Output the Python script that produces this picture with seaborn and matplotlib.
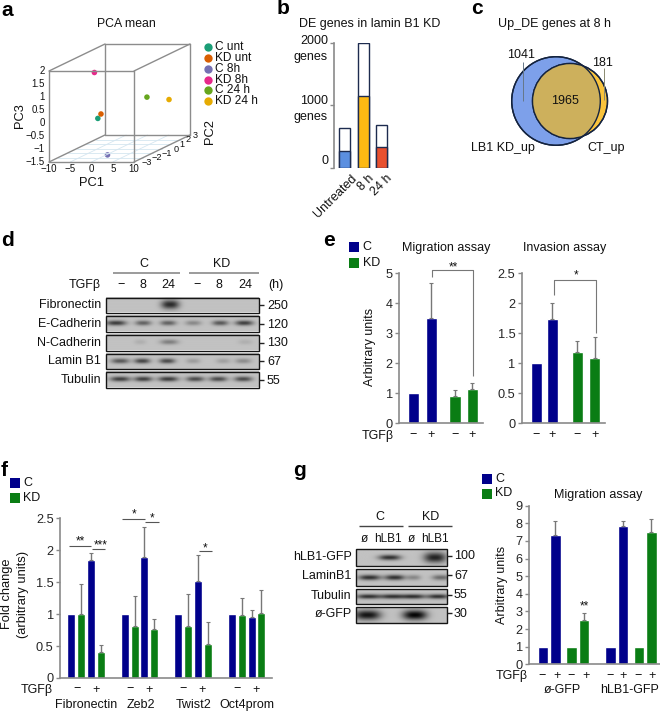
import numpy as np
import pandas as pd
import matplotlib
matplotlib.use("Agg")
import matplotlib.pyplot as plt
from matplotlib.patches import Circle, Rectangle
import seaborn as sns

# panel a
pca_names = ["C unt", "KD unt", "C 8h", "KD 8h", "C 24 h", "KD 24 h"]
pca_colors = ["#1b9e77", "#d95f02", "#7570b3", "#e7298a", "#66a61e", "#e6ab02"]
pc1 = [-2.9, -2.16, 1.57, -8.1, 2.07, 9.46]
pc2 = [-1, -1, -2, 1, 2, 1]
pc3 = [-0.17, 0.0, -1.4, 1.25, 0.13, 0.21]
pc1_ticks = [-10, -5, 0, 5, 10]
pc2_ticks = [-3, -2, -1, 0, 1, 2, 3]
pc3_ticks = [-1.5, -1, -0.5, 0, 0.5, 1, 1.5, 2]

# panel b
de_names = ["Untreated", "8 h", "24 h"]
de_total = [638, 2000, 680]
de_part = [273, 1158, 327]
de_colors = ["#5b8fe0", "#fdb913", "#e8502f"]

# panel e
mig_vals = [1, 3.52, 0.9, 1.13]
mig_tops = [None, 4.67, 1.1, 1.33]
inv_vals = [1, 1.74, 1.18, 1.08]
inv_tops = [None, 2.0, 1.37, 1.43]
groups4 = ["C", "C", "KD", "KD"]

# panel f
genes = ["Fibronectin", "Zeb2", "Twist2", "Oct4prom"]
fold_vals = [1, 1, 1.85, 0.4, 1, 0.81, 1.9, 0.77, 1, 0.82, 1.52, 0.53, 1, 0.99, 0.96, 1.02]
fold_tops = [None, 1.47, 1.95, 0.52, None, 1.28, 2.37, 0.92, None, 1.32, 1.92, 0.87, None, 1.25, 1.06, 1.38]
fold_groups = ["C", "KD", "C", "KD"] * 4

# panel g
res_vals = [1, 7.35, 1, 2.5, 1, 7.82, 1, 7.5]
res_tops = [None, 8.12, None, 2.9, None, 8.12, None, 8.22]
res_groups = ["C", "C", "KD", "KD", "C", "C", "KD", "KD"]

# blots: band centre (px), half width, strength
d_rows = ["Fibronectin", "E-Cadherin", "N-Cadherin", "Lamin B1", "Tubulin"]
d_mw = ["250", "120", "130", "67", "55"]
d_bands = [
    [(170, 9, 0.78)],
    [(116, 10, 0.7), (143, 8, 0.5), (168, 8, 0.5), (193, 8, 0.3), (220, 8, 0.55), (244, 9, 0.68)],
    [(140, 6, 0.1), (169, 9, 0.35), (245, 7, 0.1)],
    [(120, 9, 0.55), (142, 8, 0.65), (167, 8, 0.62), (193, 7, 0.2), (223, 7, 0.18), (243, 8, 0.28)],
    [(120, 10, 0.68), (143, 9, 0.68), (168, 10, 0.7), (195, 9, 0.62), (218, 9, 0.62), (243, 9, 0.62)],
]
g_rows = ["hLB1-GFP", "LaminB1", "Tubulin", "ø-GFP"]
g_mw = ["100", "67", "55", "30"]
g_bands = [
    [(389, 11, 0.75), (434, 11, 0.82)],
    [(369, 11, 0.75), (394, 10, 0.75), (413, 7, 0.3), (440, 9, 0.45)],
    [(368, 12, 0.75), (392, 12, 0.75), (413, 11, 0.75), (437, 11, 0.75)],
    [(367, 13, 0.9), (414, 12, 0.98)],
]

blue = "#00008b"
green = "#0a7d14"
axis_gray = "#8a8a8a"
err_gray = "#777777"
palette = {"C": blue, "KD": green}

sns.set_theme(style="white")
plt.rcParams["font.family"] = ["Liberation Sans", "DejaVu Sans"]
W, H = 660, 712
fig = plt.figure(figsize=(W / 100, H / 100), dpi=100)

ov = fig.add_axes([0, 0, 1, 1], zorder=5)
ov.patch.set_visible(False)
ov.axis("off")


def T(x, y, s, size=9, ha="center", va="center", rot=0, **kw):
    ov.text(x, y, s, fontsize=size, ha=ha, va=va, rotation=rot, color="#111111", **kw)


def L(xs, ys, color="#555555", lw=0.8):
    ov.plot(xs, ys, color=color, lw=lw, solid_capstyle="butt")


def px_axes(x0, ytop, x1, ybot):
    ax = fig.add_axes([x0 / W, 1 - ybot / H, (x1 - x0) / W, (ybot - ytop) / H])
    ax.patch.set_visible(False)
    for s in ["top", "right"]:
        ax.spines[s].set_visible(False)
    for s in ["left", "bottom"]:
        ax.spines[s].set_color(axis_gray)
        ax.spines[s].set_linewidth(1.2)
    ax.tick_params(axis="y", length=3, width=1, color=axis_gray, pad=1.5, labelsize=9.2, left=True)
    ax.set_xticks([])
    return ax


def bars(ax, pos, vals, tops, grp, bw, x0, x1, ymax, yticks, yfmt=None):
    df = pd.DataFrame({"pos": pos, "val": vals, "group": grp})
    gaps = np.diff(sorted(pos)).min()
    sns.barplot(data=df, x="pos", y="val", hue="group", palette=palette, native_scale=True, dodge=False,
                width=bw / gaps, saturation=1, legend=False, ax=ax)
    for p, v, t in zip(pos, vals, tops):
        if t is not None:
            ax.errorbar([p], [v], yerr=[[0], [t - v]], fmt="none", ecolor=err_gray, elinewidth=1, capsize=1.5, capthick=0.8)
    ax.set_xlim(x0, x1)
    ax.set_ylim(0, ymax)
    ax.set_xlabel("")
    ax.set_ylabel("")
    ax.set_yticks(yticks)
    ax.set_yticklabels(yfmt if yfmt else [str(t) for t in yticks])
    ax.set_xticks([])
    sns.despine(ax=ax)


def legend(x, y1, y2, size=10):
    for y, name in [(y1, "C"), (y2, "KD")]:
        ov.add_patch(Rectangle((x, y), size, size, color=palette[name], lw=0))
        T(x + size + 3.5, y + size / 2, name, ha="left")


def blot(x0, x1, y0, y1, bands, bg=0.76):
    xs = np.arange(x0, x1, 0.5)
    ys = np.linspace(-1, 1, 40)
    img = np.full((len(ys), len(xs)), bg)
    for c, hw, s in bands:
        thick = 0.32 + 0.3 * (s > 0.77)
        img -= s * bg * np.exp(-np.abs((xs - c) / hw) ** 2.6)[None, :] * np.exp(-(ys / thick) ** 2)[:, None]
    ov.imshow(np.clip(img, 0, 1), cmap="gray", vmin=0, vmax=1, extent=(x0, x1, y1, y0), aspect="auto", interpolation="bilinear")
    ov.add_patch(Rectangle((x0, y0), x1 - x0, y1 - y0, fill=False, ec="#151515", lw=1))


# ---- a: oblique box
def proj(a, b, c):
    a, b, c = np.asarray(a, float), np.asarray(b, float), np.asarray(c, float)
    return 49 + 4.25 * (a + 10) + 9.33 * (b + 3), 162 - 26 * (c + 1.5) - 4.5 * (b + 3)


def edge(p, q, color="#8c8c8c", lw=1):
    x, y = proj([p[0], q[0]], [p[1], q[1]], [p[2], q[2]])
    ov.plot(x, y, color=color, lw=lw, solid_capstyle="round")


for t in pc1_ticks[1:-1]:
    edge((t, -3, -1.5), (t, 3, -1.5), "#d5e6f0", 0.6)
for t in pc2_ticks[1:-1]:
    edge((-10, t, -1.5), (10, t, -1.5), "#d5e6f0", 0.6)
box = [((-10, -3, -1.5), (10, -3, -1.5)), ((10, -3, -1.5), (10, 3, -1.5)), ((-10, 3, -1.5), (10, 3, -1.5)),
       ((-10, -3, -1.5), (-10, 3, -1.5)), ((-10, -3, 2), (10, -3, 2)), ((-10, 3, 2), (10, 3, 2)),
       ((-10, -3, 2), (-10, 3, 2)), ((10, -3, 2), (10, 3, 2)), ((-10, -3, -1.5), (-10, -3, 2)),
       ((10, -3, -1.5), (10, -3, 2)), ((-10, 3, -1.5), (-10, 3, 2)), ((10, 3, -1.5), (10, 3, 2))]
for p, q in box:
    edge(p, q)
px, py = proj(pc1, pc2, pc3)
pca_df = pd.DataFrame({"x": px, "y": py, "name": pca_names})
sns.scatterplot(data=pca_df, x="x", y="y", hue="name", palette=pca_colors, s=16, legend=False, linewidth=0, ax=ov)
ov.set_xlabel("")
ov.set_ylabel("")
for i, (n, c) in enumerate(zip(pca_names, pca_colors)):
    y = 47 + i * 10.85
    ov.scatter([207.5], [y], s=36, color=c, linewidth=0)
    T(215, y, n, size=8.6, ha="left")
for t in pc1_ticks:
    x, y = proj(t, -3, -1.5)
    T(x, y + 7, str(t).replace("-", "−"), size=7)
# the PC2 labels crowd together towards the back corner
for t, dx in zip(pc2_ticks, [12.7, 13.7, 14, 13.7, 10.4, 7.6, 5.7]):
    x, y = proj(10, t, -1.5)
    T(x + dx, y + 0.5, str(t).replace("-", "−"), size=6.6)
for t in pc3_ticks:
    x, y = proj(-10, -3, t)
    T(45, y, str(t).replace("-", "−"), size=7, ha="right")
T(126, 24, "PCA mean", size=8.8)
T(91.5, 183, "PC1", size=9.3)
T(20.5, 116, "PC3", size=9.3, rot=90)
T(210.5, 132, "PC2", size=9.3, rot=90)

# ---- b
ax_b = px_axes(334, 43.3, 392, 167.7)
ax_b.spines["bottom"].set_visible(False)
b_pos = [345, 363, 381.3]
b_edge = "#1d2b4f"
sns.barplot(x=b_pos, y=de_total, native_scale=True, color="white", edgecolor=b_edge, linewidth=1, width=11 / 18, ax=ax_b)
sns.barplot(x=b_pos, y=de_part, native_scale=True, hue=de_names, palette=de_colors, edgecolor=b_edge, linewidth=1,
            width=11 / 18, dodge=False, legend=False, saturation=1, ax=ax_b)
ax_b.set_xlim(334, 392)
ax_b.set_ylim(0, 2000)
ax_b.set_xticks([])
ax_b.set_yticks([0, 1000, 2000])
ax_b.set_yticklabels([])
T(370, 24, "DE genes in lamin B1 KD")
T(328, 41.5, "2000", ha="right")
T(328, 57, "genes", ha="right")
T(328, 101.5, "1000", ha="right")
T(328, 117, "genes", ha="right")
T(328, 161, "0", ha="right")
for name, x in zip(de_names, [351, 368, 386]):
    T(x, 172, name, rot=45, ha="right", va="top", rotation_mode="anchor")

# ---- c
c_blue = Circle((556, 101), 44.3, fc="#7da0ea", ec="#14233f", lw=1)
c_yellow = Circle((570, 101), 37.5, fc="#f9c33c", ec="#14233f", lw=1)
ov.add_patch(c_blue)
ov.add_patch(c_yellow)
c_mid = Circle((570, 101), 37.5, fc="#cdb05c", ec="none")
ov.add_patch(c_mid)
c_mid.set_clip_path(Circle((556, 101), 44.3, transform=ov.transData))
ov.add_patch(Circle((556, 101), 44.3, fill=False, ec="#14233f", lw=1))
ov.add_patch(Circle((570, 101), 37.5, fill=False, ec="#14233f", lw=1))
T(554.5, 24, "Up_DE genes at 8 h")
T(521, 55.5, "1041")
T(602.5, 62.5, "181")
T(565.5, 101.5, "1965")
T(502.5, 148.5, "LB1 KD_up")
T(606.5, 148.5, "CT_up")
L([522.5, 522.5], [62, 101], "#667788", 0.7)
L([603.5, 603.5], [68, 100], "#8a8a70", 0.7)

# ---- d
d_x0, d_x1 = 106, 258.7
d_y = [(297.5, 312.5), (316, 331.5), (334.5, 350.5), (353.5, 369), (372, 387.5)]
for name, mw, bd, (y0, y1) in zip(d_rows, d_mw, d_bands, d_y):
    blot(d_x0, d_x1, y0, y1, bd)
    T(101, (y0 + y1) / 2, name, ha="right")
    L([d_x1, d_x1 + 5], [(y0 + y1) / 2, (y0 + y1) / 2], "#222222", 1)
    T(267, (y0 + y1) / 2 + 1, mw, ha="left")
T(144, 264, "C")
T(221.5, 264, "KD")
L([113, 179.5], [273, 273], axis_gray, 1.2)
L([188.5, 258.7], [273, 273], axis_gray, 1.2)
T(101, 285, "TGFβ", ha="right")
for x, s in zip([121, 143, 168, 197, 219, 245], ["−", "8", "24", "−", "8", "24"]):
    T(x, 285, s)
T(276, 285, "(h)")

# ---- e
ax_e1 = px_axes(399, 273.3, 482.7, 423)
e1_pos = [413.3, 431.3, 455, 472.3]
bars(ax_e1, e1_pos, mig_vals, mig_tops, groups4, 11.5, 399, 482.7, 5, [0, 1, 2, 3, 4, 5])
ax_e2 = px_axes(521.7, 273.3, 605, 423)
e2_pos = [536, 552.3, 577.3, 594.7]
bars(ax_e2, e2_pos, inv_vals, inv_tops, groups4, 11, 521.7, 605, 2.5, [0, 0.5, 1, 1.5, 2, 2.5],
     ["0", "0.5", "1", "1.5", "2", "2.5"])
legend(349.3, 242.3, 258)
T(445.7, 247.5, "Migration assay")
T(565, 247.5, "Invasion assay")
T(370, 346.7, "Arbitrary units", rot=90)
L([432, 432, 472.7, 472.7], [276.7, 270, 270, 375.7], err_gray, 0.8)
L([553.7, 553.7, 596, 596], [295, 280, 280, 333], err_gray, 0.8)
T(453, 267, "**", size=8.5)
T(575.7, 275.5, "*", size=8.5)
T(378, 436, "TGFβ")
for x, s in zip(e1_pos + e2_pos, ["−", "+", "−", "+"] * 2):
    T(x, 435, s)

# ---- f
ax_f = px_axes(60, 518.3, 271.7, 678)
f_pos = [x / 3 for x in [214, 244, 273, 302, 375, 404, 433, 462, 535, 565, 594, 623, 696, 725, 755, 784]]
bars(ax_f, f_pos, fold_vals, fold_tops, fold_groups, 8, 60, 271.7, 2.5, [0, 0.5, 1, 1.5, 2, 2.5],
     ["0", "0.5", "1", "1.5", "2", "2.5"])
legend(10, 478, 493)
T(7, 594, "Fold change", size=9.3, rot=90)
T(22.7, 594, "(arbitrary units)", size=9.3, rot=90)
for x0, x1, y, xs, ys, s in [(207, 272, 289, 240, 274, "**"), (275, 316, 298, 303, 286, "***"),
                            (366, 435, 206, 403, 194, "*"), (435, 476, 216, 457, 205, "*"),
                            (596, 636, 304, 614, 295, "*")]:
    L([x0 / 3, x1 / 3], [450 + y / 3, 450 + y / 3])
    T(xs / 3, 450 + ys / 3, s, size=8.5)
T(37, 689.5, "TGFβ")
for x, s in zip([230, 288, 390, 447, 548, 606, 710, 768], ["−", "+"] * 4):
    T(x / 3, 689.5, s)
for x, s in zip([257, 422, 582, 740], genes):
    T(x / 3, 705, s)

# ---- g
g_x0, g_x1 = 355.7, 447
g_y = [(549.3, 565.7), (569, 585.7), (589.3, 604.3), (607.3, 623.3)]
for name, mw, bd, (y0, y1) in zip(g_rows, g_mw, g_bands, g_y):
    blot(g_x0, g_x1, y0, y1, bd)
    T(351.5, (y0 + y1) / 2 - 1, name, ha="right")
    L([g_x1, g_x1 + 4.5], [(y0 + y1) / 2 - 2, (y0 + y1) / 2 - 2], "#222222", 1)
    T(454, (y0 + y1) / 2 - 1.5, mw, ha="left")
T(380, 516.5, "C")
T(430.7, 516.5, "KD")
L([359.3, 403.3], [526.3, 526.3], "#444444", 1)
L([407.7, 451.7], [526.3, 526.3], "#444444", 1)
for x, s in zip([364.3, 388.3, 411.7, 435.3], ["ø", "hLB1", "ø", "hLB1"]):
    T(x, 538.5, s, size=8.5)

ax_g = px_axes(529, 505.7, 660, 664.3)
g_pos = [330 + x / 3 for x in [639, 676, 725, 762, 842, 879, 927, 964]]
bars(ax_g, g_pos, res_vals, res_tops, res_groups, 10.7, 529, 660, 9, list(range(10)))
legend(482, 473.5, 488.5)
T(598, 495, "Migration assay")
T(502, 585, "Arbitrary units", rot=90)
T(584.3, 606, "**", size=8.5)
T(512, 676.5, "TGFβ")
for x, s in zip([637, 680, 724, 767, 840, 878, 925, 965], ["−", "+"] * 4):
    T(330 + x / 3, 676, s)
T(562.5, 690, "ø-GFP")
T(630, 690, "hLB1-GFP")

# letters
for x, y, s in [(1, 10, "a"), (277, 9, "b"), (471, 9, "c"), (1, 240, "d"), (323, 240, "e"), (1, 470, "f"), (293, 470, "g")]:
    ov.text(x, y, s, fontsize=15, fontweight="bold", ha="left", va="center", color="black")

ov.set_xlim(0, W)
ov.set_ylim(H, 0)
fig.savefig("out.png", dpi=100)
